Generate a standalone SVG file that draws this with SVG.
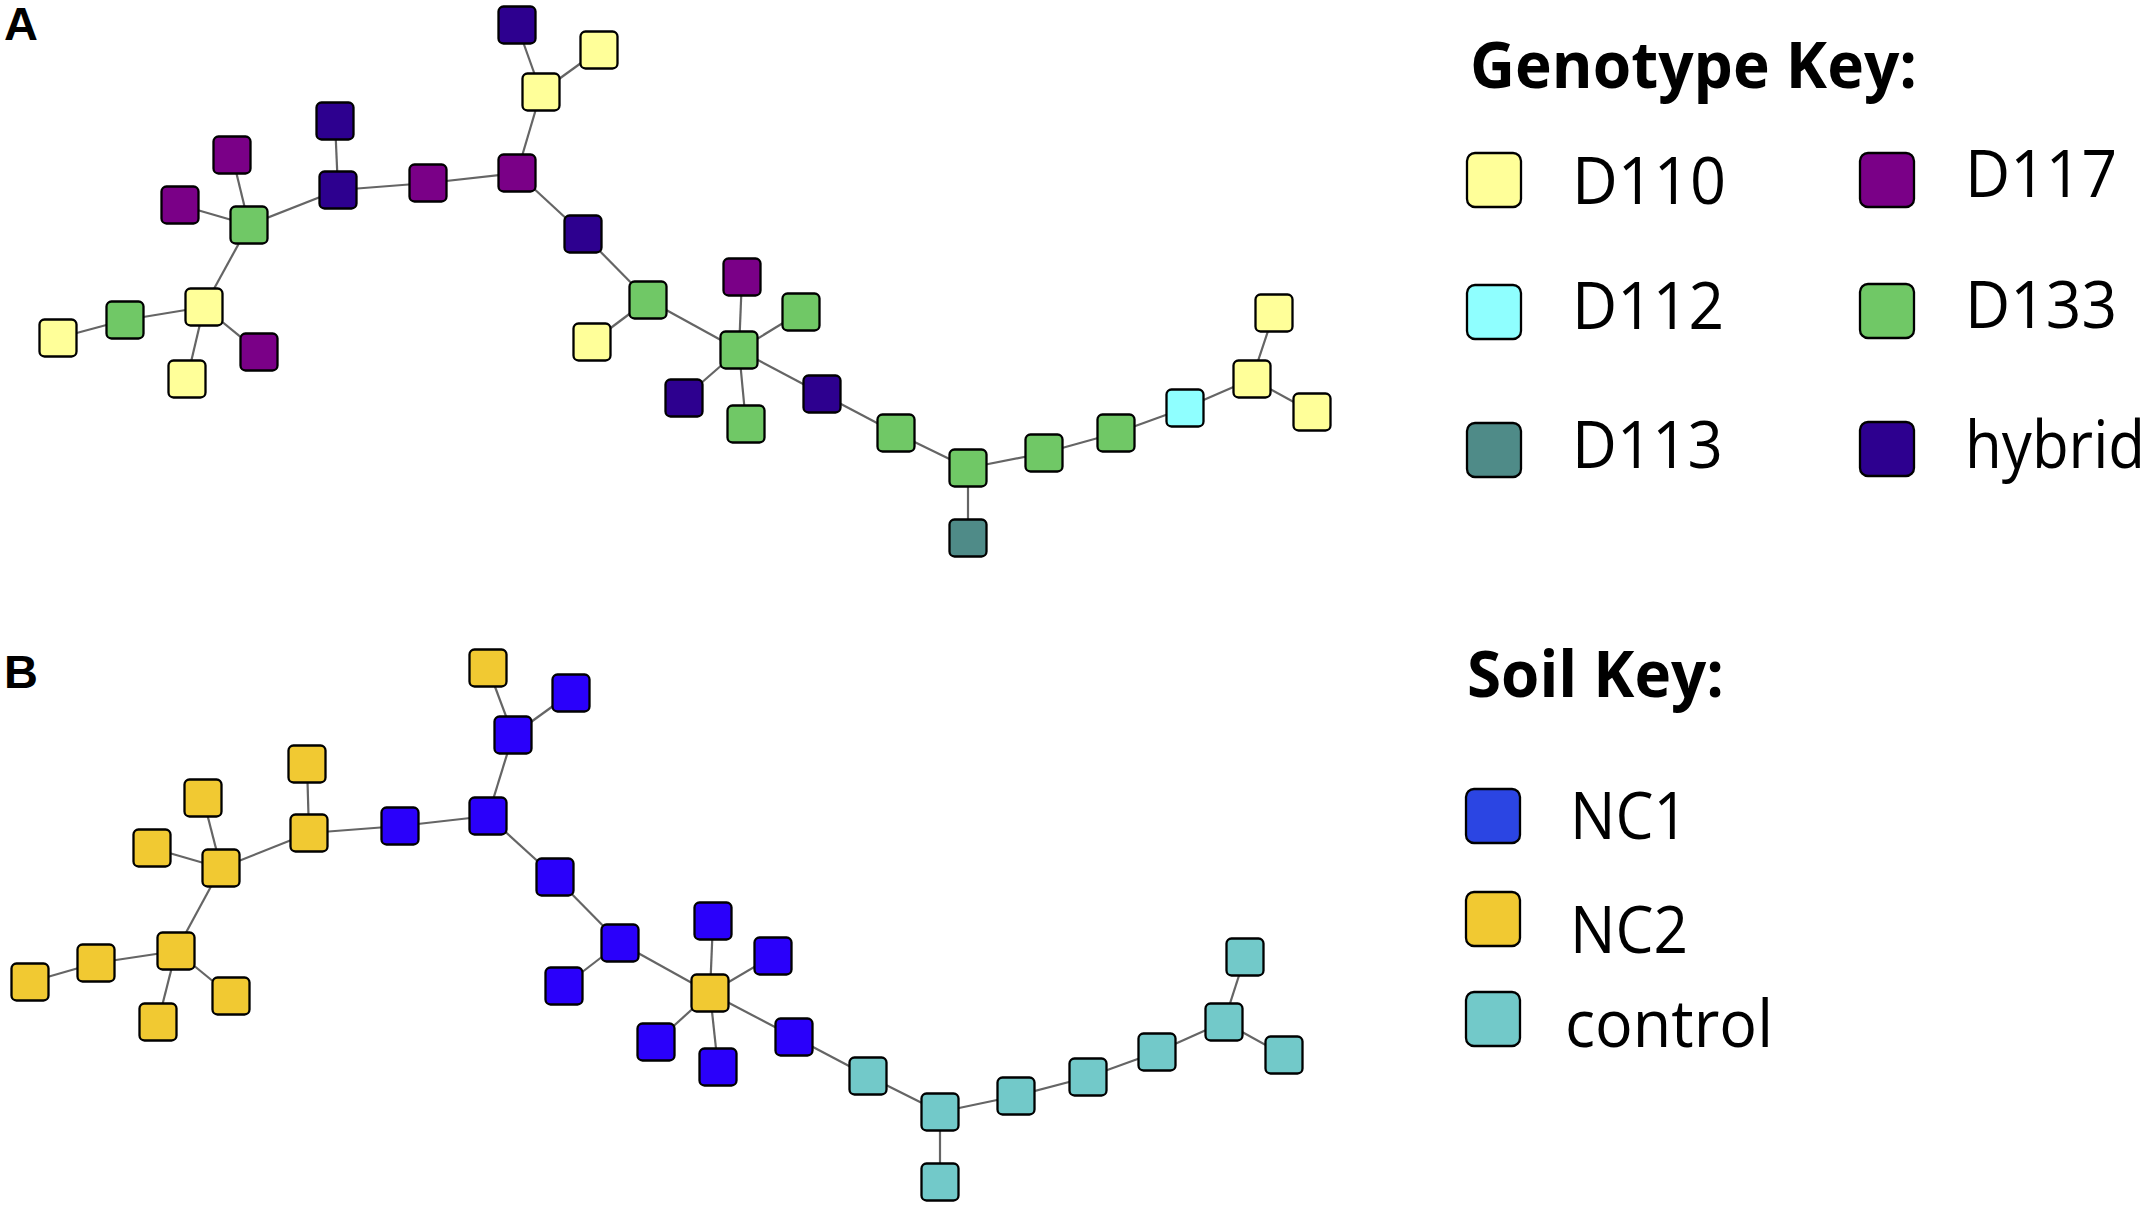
<svg xmlns="http://www.w3.org/2000/svg" width="2153" height="1205" viewBox="0 0 2153 1205">
<style>
.n{stroke:#000;stroke-width:2.3}
.e line{stroke:#656565;stroke-width:2.2}
.d110{fill:#FFFF99}.d112{fill:#8FFFFF}.d113{fill:#4F8B88}.d117{fill:#7A0087}.d133{fill:#70C866}.hyb{fill:#2D008F}
.nc1{fill:#2A00FA}.nc2{fill:#F1C932}.ctl{fill:#72C9C9}.nc1k{fill:#2B45E3}
.lbl{font-family:"Liberation Sans",Arial,sans-serif;font-weight:bold;font-size:47px;fill:#000}
.kt{font-family:"Open Sans","Liberation Sans",sans-serif;font-weight:bold;font-size:64px;fill:#000}
.kl{font-family:"Open Sans","Liberation Sans",sans-serif;font-size:65px;fill:#000}
</style>
<defs>
<rect id="nd" x="-18.5" y="-18.5" width="37" height="37" rx="5"/>
<rect id="ks" x="0" y="0" width="54" height="54" rx="8"/>
</defs>
<rect width="2153" height="1205" fill="#fff"/>
<text class="lbl" x="4" y="40">A</text>
<text class="lbl" x="4" y="688">B</text>

<g id="connectors-A" class="e">
<line x1="517" y1="25" x2="541" y2="92"/>
<line x1="599" y1="50" x2="541" y2="92"/>
<line x1="541" y1="92" x2="517" y2="173"/>
<line x1="517" y1="173" x2="428" y2="183"/>
<line x1="428" y1="183" x2="338" y2="190"/>
<line x1="335" y1="121" x2="338" y2="190"/>
<line x1="338" y1="190" x2="249" y2="225"/>
<line x1="232" y1="155" x2="249" y2="225"/>
<line x1="180" y1="205" x2="249" y2="225"/>
<line x1="249" y1="225" x2="204" y2="307"/>
<line x1="204" y1="307" x2="125" y2="320"/>
<line x1="125" y1="320" x2="58" y2="338"/>
<line x1="204" y1="307" x2="259" y2="352"/>
<line x1="204" y1="307" x2="187" y2="379"/>
<line x1="517" y1="173" x2="583" y2="234"/>
<line x1="583" y1="234" x2="648" y2="300"/>
<line x1="648" y1="300" x2="592" y2="342"/>
<line x1="648" y1="300" x2="739" y2="350"/>
<line x1="739" y1="350" x2="742" y2="277"/>
<line x1="739" y1="350" x2="801" y2="312"/>
<line x1="739" y1="350" x2="684" y2="398"/>
<line x1="739" y1="350" x2="746" y2="424"/>
<line x1="739" y1="350" x2="822" y2="394"/>
<line x1="822" y1="394" x2="896" y2="433"/>
<line x1="896" y1="433" x2="968" y2="468"/>
<line x1="968" y1="468" x2="968" y2="538"/>
<line x1="968" y1="468" x2="1044" y2="453"/>
<line x1="1044" y1="453" x2="1116" y2="433"/>
<line x1="1116" y1="433" x2="1185" y2="408"/>
<line x1="1185" y1="408" x2="1252" y2="379"/>
<line x1="1252" y1="379" x2="1274" y2="313"/>
<line x1="1252" y1="379" x2="1312" y2="412"/>
</g>

<g id="connectors-B" class="e">
<line x1="488" y1="668" x2="513" y2="735"/>
<line x1="571" y1="693" x2="513" y2="735"/>
<line x1="513" y1="735" x2="488" y2="816"/>
<line x1="488" y1="816" x2="400" y2="826"/>
<line x1="400" y1="826" x2="309" y2="833"/>
<line x1="307" y1="764" x2="309" y2="833"/>
<line x1="309" y1="833" x2="221" y2="868"/>
<line x1="203" y1="798" x2="221" y2="868"/>
<line x1="152" y1="848" x2="221" y2="868"/>
<line x1="221" y1="868" x2="176" y2="951"/>
<line x1="176" y1="951" x2="96" y2="963"/>
<line x1="96" y1="963" x2="30" y2="982"/>
<line x1="176" y1="951" x2="231" y2="996"/>
<line x1="176" y1="951" x2="158" y2="1022"/>
<line x1="488" y1="816" x2="555" y2="877"/>
<line x1="555" y1="877" x2="620" y2="943"/>
<line x1="620" y1="943" x2="564" y2="986"/>
<line x1="620" y1="943" x2="710" y2="993"/>
<line x1="710" y1="993" x2="713" y2="921"/>
<line x1="710" y1="993" x2="773" y2="956"/>
<line x1="710" y1="993" x2="656" y2="1042"/>
<line x1="710" y1="993" x2="718" y2="1067"/>
<line x1="710" y1="993" x2="794" y2="1037"/>
<line x1="794" y1="1037" x2="868" y2="1076"/>
<line x1="868" y1="1076" x2="940" y2="1112"/>
<line x1="940" y1="1112" x2="940" y2="1182"/>
<line x1="940" y1="1112" x2="1016" y2="1096"/>
<line x1="1016" y1="1096" x2="1088" y2="1077"/>
<line x1="1088" y1="1077" x2="1157" y2="1052"/>
<line x1="1157" y1="1052" x2="1224" y2="1022"/>
<line x1="1224" y1="1022" x2="1245" y2="957"/>
<line x1="1224" y1="1022" x2="1284" y2="1055"/>
</g>

<g id="nodes-A">
<g id="a1"><use href="#nd" class="n hyb" x="517" y="25"/></g>
<g id="a2"><use href="#nd" class="n d110" x="599" y="50"/></g>
<g id="a3"><use href="#nd" class="n d110" x="541" y="92"/></g>
<g id="a4"><use href="#nd" class="n hyb" x="335" y="121"/></g>
<g id="a5"><use href="#nd" class="n d117" x="232" y="155"/></g>
<g id="a6"><use href="#nd" class="n hyb" x="338" y="190"/></g>
<g id="a7"><use href="#nd" class="n d117" x="428" y="183"/></g>
<g id="a8"><use href="#nd" class="n d117" x="517" y="173"/></g>
<g id="a9"><use href="#nd" class="n d117" x="180" y="205"/></g>
<g id="a10"><use href="#nd" class="n d133" x="249" y="225"/></g>
<g id="a11"><use href="#nd" class="n hyb" x="583" y="234"/></g>
<g id="a12"><use href="#nd" class="n d133" x="648" y="300"/></g>
<g id="a13"><use href="#nd" class="n d110" x="592" y="342"/></g>
<g id="a14"><use href="#nd" class="n d110" x="204" y="307"/></g>
<g id="a15"><use href="#nd" class="n d133" x="125" y="320"/></g>
<g id="a16"><use href="#nd" class="n d110" x="58" y="338"/></g>
<g id="a17"><use href="#nd" class="n d117" x="259" y="352"/></g>
<g id="a18"><use href="#nd" class="n d110" x="187" y="379"/></g>
<g id="a19"><use href="#nd" class="n hyb" x="684" y="398"/></g>
<g id="a20"><use href="#nd" class="n d117" x="742" y="277"/></g>
<g id="a21"><use href="#nd" class="n d133" x="801" y="312"/></g>
<g id="a22"><use href="#nd" class="n d133" x="739" y="350"/></g>
<g id="a23"><use href="#nd" class="n d133" x="746" y="424"/></g>
<g id="a24"><use href="#nd" class="n hyb" x="822" y="394"/></g>
<g id="a25"><use href="#nd" class="n d133" x="896" y="433"/></g>
<g id="a26"><use href="#nd" class="n d133" x="968" y="468"/></g>
<g id="a27"><use href="#nd" class="n d113" x="968" y="538"/></g>
<g id="a28"><use href="#nd" class="n d133" x="1044" y="453"/></g>
<g id="a29"><use href="#nd" class="n d133" x="1116" y="433"/></g>
<g id="a30"><use href="#nd" class="n d112" x="1185" y="408"/></g>
<g id="a31"><use href="#nd" class="n d110" x="1252" y="379"/></g>
<g id="a32"><use href="#nd" class="n d110" x="1274" y="313"/></g>
<g id="a33"><use href="#nd" class="n d110" x="1312" y="412"/></g>
</g>

<g id="nodes-B">
<g id="b1"><use href="#nd" class="n nc2" x="488" y="668"/></g>
<g id="b2"><use href="#nd" class="n nc1" x="571" y="693"/></g>
<g id="b3"><use href="#nd" class="n nc1" x="513" y="735"/></g>
<g id="b4"><use href="#nd" class="n nc2" x="307" y="764"/></g>
<g id="b5"><use href="#nd" class="n nc2" x="203" y="798"/></g>
<g id="b6"><use href="#nd" class="n nc2" x="309" y="833"/></g>
<g id="b7"><use href="#nd" class="n nc1" x="400" y="826"/></g>
<g id="b8"><use href="#nd" class="n nc1" x="488" y="816"/></g>
<g id="b9"><use href="#nd" class="n nc2" x="152" y="848"/></g>
<g id="b10"><use href="#nd" class="n nc2" x="221" y="868"/></g>
<g id="b11"><use href="#nd" class="n nc1" x="555" y="877"/></g>
<g id="b12"><use href="#nd" class="n nc1" x="620" y="943"/></g>
<g id="b13"><use href="#nd" class="n nc1" x="564" y="986"/></g>
<g id="b14"><use href="#nd" class="n nc2" x="176" y="951"/></g>
<g id="b15"><use href="#nd" class="n nc2" x="96" y="963"/></g>
<g id="b16"><use href="#nd" class="n nc2" x="30" y="982"/></g>
<g id="b17"><use href="#nd" class="n nc2" x="231" y="996"/></g>
<g id="b18"><use href="#nd" class="n nc2" x="158" y="1022"/></g>
<g id="b19"><use href="#nd" class="n nc1" x="656" y="1042"/></g>
<g id="b20"><use href="#nd" class="n nc1" x="713" y="921"/></g>
<g id="b21"><use href="#nd" class="n nc1" x="773" y="956"/></g>
<g id="b22"><use href="#nd" class="n nc2" x="710" y="993"/></g>
<g id="b23"><use href="#nd" class="n nc1" x="718" y="1067"/></g>
<g id="b24"><use href="#nd" class="n nc1" x="794" y="1037"/></g>
<g id="b25"><use href="#nd" class="n ctl" x="868" y="1076"/></g>
<g id="b26"><use href="#nd" class="n ctl" x="940" y="1112"/></g>
<g id="b27"><use href="#nd" class="n ctl" x="940" y="1182"/></g>
<g id="b28"><use href="#nd" class="n ctl" x="1016" y="1096"/></g>
<g id="b29"><use href="#nd" class="n ctl" x="1088" y="1077"/></g>
<g id="b30"><use href="#nd" class="n ctl" x="1157" y="1052"/></g>
<g id="b31"><use href="#nd" class="n ctl" x="1224" y="1022"/></g>
<g id="b32"><use href="#nd" class="n ctl" x="1245" y="957"/></g>
<g id="b33"><use href="#nd" class="n ctl" x="1284" y="1055"/></g>
</g>

<g id="genotype-key">
<text class="kt" x="1470" y="88" textLength="447" lengthAdjust="spacingAndGlyphs">Genotype Key:</text>
<use href="#ks" class="n d110" x="1467" y="153"/>
<text class="kl" x="1572" y="204" textLength="154" lengthAdjust="spacingAndGlyphs">D110</text>
<use href="#ks" class="n d117" x="1860" y="153"/>
<text class="kl" x="1965" y="197" textLength="152" lengthAdjust="spacingAndGlyphs">D117</text>
<use href="#ks" class="n d112" x="1467" y="285"/>
<text class="kl" x="1572" y="329" textLength="152" lengthAdjust="spacingAndGlyphs">D112</text>
<use href="#ks" class="n d133" x="1860" y="284"/>
<text class="kl" x="1965" y="328" textLength="152" lengthAdjust="spacingAndGlyphs">D133</text>
<use href="#ks" class="n d113" x="1467" y="423"/>
<text class="kl" x="1572" y="468" textLength="151" lengthAdjust="spacingAndGlyphs">D113</text>
<use href="#ks" class="n hyb" x="1860" y="422"/>
<text class="kl" x="1965" y="468" font-size="60" textLength="180" lengthAdjust="spacingAndGlyphs">hybrid</text>
</g>

<g id="soil-key">
<text class="kt" x="1467" y="697" textLength="257" lengthAdjust="spacingAndGlyphs">Soil Key:</text>
<use href="#ks" class="n nc1k" x="1466" y="789"/>
<text class="kl" x="1570" y="839" textLength="118" lengthAdjust="spacingAndGlyphs">NC1</text>
<use href="#ks" class="n nc2" x="1466" y="892"/>
<text class="kl" x="1570" y="953" textLength="118" lengthAdjust="spacingAndGlyphs">NC2</text>
<use href="#ks" class="n ctl" x="1466" y="992"/>
<text class="kl" x="1565" y="1047" textLength="208" lengthAdjust="spacingAndGlyphs">control</text>
</g>
</svg>
